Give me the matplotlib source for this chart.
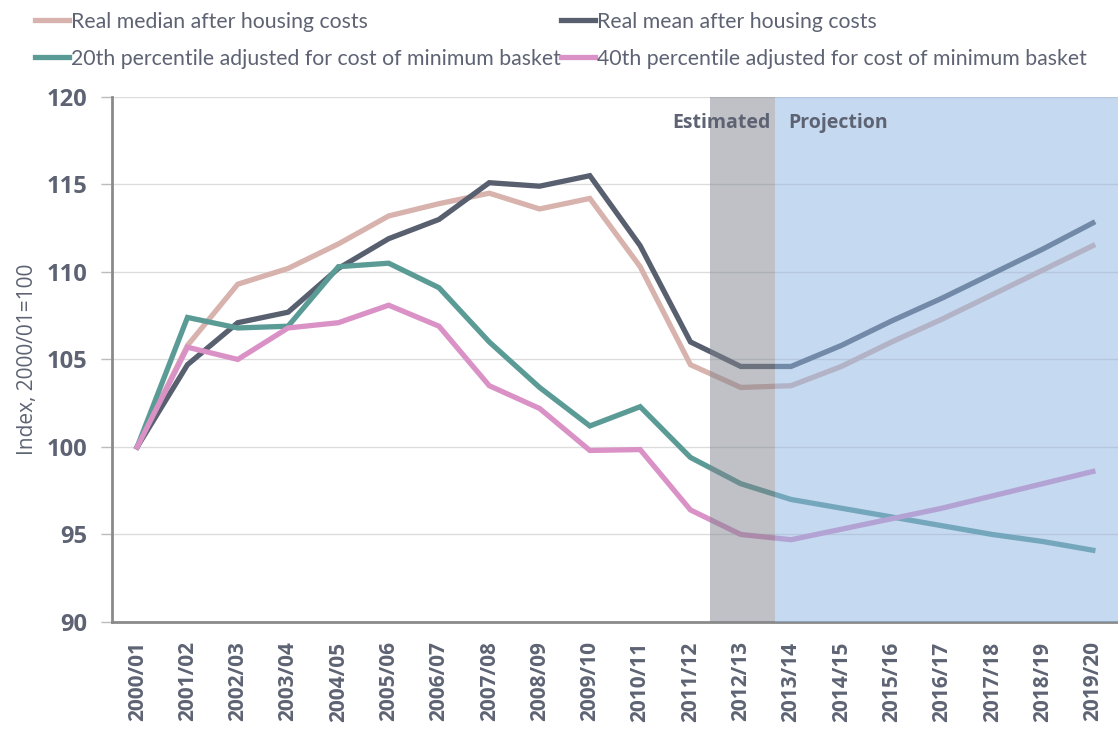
import matplotlib.pyplot as plt

years = ['2000/01', '2001/02', '2002/03', '2003/04', '2004/05', '2005/06', '2006/07',
         '2007/08', '2008/09', '2009/10', '2010/11', '2011/12', '2012/13', '2013/14',
         '2014/15', '2015/16', '2016/17', '2017/18', '2018/19', '2019/20']

median_ahc = [100, 105.8, 109.3, 110.2, 111.6, 113.2, 113.9, 114.5, 113.6, 114.2,
              110.3, 104.7, 103.4, 103.5, 104.6, 106.0, 107.3, 108.7, 110.1, 111.5]
mean_ahc = [100, 104.7, 107.1, 107.7, 110.2, 111.9, 113.0, 115.1, 114.9, 115.5,
            111.5, 106.0, 104.6, 104.6, 105.8, 107.2, 108.5, 109.9, 111.3, 112.8]
p20_basket = [100, 107.4, 106.8, 106.9, 110.3, 110.5, 109.1, 106.0, 103.4, 101.2,
              102.3, 99.4, 97.9, 97.0, 96.5, 96.0, 95.5, 95.0, 94.6, 94.1]
p40_basket = [100, 105.7, 105.0, 106.8, 107.1, 108.1, 106.9, 103.5, 102.2, 99.8,
              99.85, 96.4, 95.0, 94.7, 95.3, 95.9, 96.5, 97.2, 97.9, 98.6]

series = [
    ('Real median after housing costs', median_ahc, '#d8b2ac'),
    ('Real mean after housing costs', mean_ahc, '#585f6e'),
    ('20th percentile adjusted for cost of minimum basket', p20_basket, '#5b9b96'),
    ('40th percentile adjusted for cost of minimum basket', p40_basket, '#da92c6'),
]

txt = '#5d6373'
plt.rcParams['font.family'] = ['Open Sans', 'DejaVu Sans']

fig = plt.figure(figsize=(11.18, 7.4), dpi=100)
ax = fig.add_axes([0.1002, 0.1595, 0.8998, 0.7095])

x = range(len(years))
handles = {}
for label, vals, col in series:
    handles[label], = ax.plot(x, vals, color=col, lw=3.8, label=label,
                              solid_joinstyle='miter', zorder=3)

# estimated / projection shading drawn over the lines
ax.axvspan(11.38, 12.68, color='#80858f', alpha=0.5, lw=0, zorder=4)
ax.axvspan(12.68, 19.5, color='#8db4e2', alpha=0.5, lw=0, zorder=4)
ax.text(12.6, 118.5, 'Estimated', ha='right', va='center', fontsize=14,
        fontweight='bold', color=txt, zorder=5)
ax.text(12.95, 118.5, 'Projection', ha='left', va='center', fontsize=14,
        fontweight='bold', color=txt, zorder=5)

ax.set_xlim(-0.5, 19.5)
ax.set_ylim(90, 120)
ax.set_yticks(range(90, 121, 5))
ax.set_xticks(list(x))
ax.set_xticklabels(years, rotation=90, fontsize=15, fontweight='bold', color=txt)
for t in ax.get_yticklabels():
    t.set_fontsize(17)
    t.set_fontweight('bold')
    t.set_color(txt)
ax.tick_params(axis='y', length=8, width=1, color='#bbbbbb', pad=10)
ax.tick_params(axis='x', length=0, pad=14)
ax.grid(axis='y', color='#dcdcdc', lw=1, zorder=0)
ax.set_axisbelow(True)
ax.set_ylabel('Index, 2000/01=100', fontsize=15, color=txt, labelpad=6)

for s in ['top', 'right']:
    ax.spines[s].set_visible(False)
for s in ['left', 'bottom']:
    ax.spines[s].set_color('#8a8a8a')
    ax.spines[s].set_linewidth(2)

# row-wise legend order
order = [series[0][0], series[2][0], series[1][0], series[3][0]]
fig.legend([handles[k] for k in order], order, loc='upper left',
           bbox_to_anchor=(0.014, 1.01), ncol=2, frameon=False,
           prop={'family': 'Lato', 'size': 15.3}, handlelength=1.6,
           handletextpad=0.1, columnspacing=0.0, labelspacing=0.8,
           labelcolor=txt)

fig.savefig('out.png', dpi=100)
